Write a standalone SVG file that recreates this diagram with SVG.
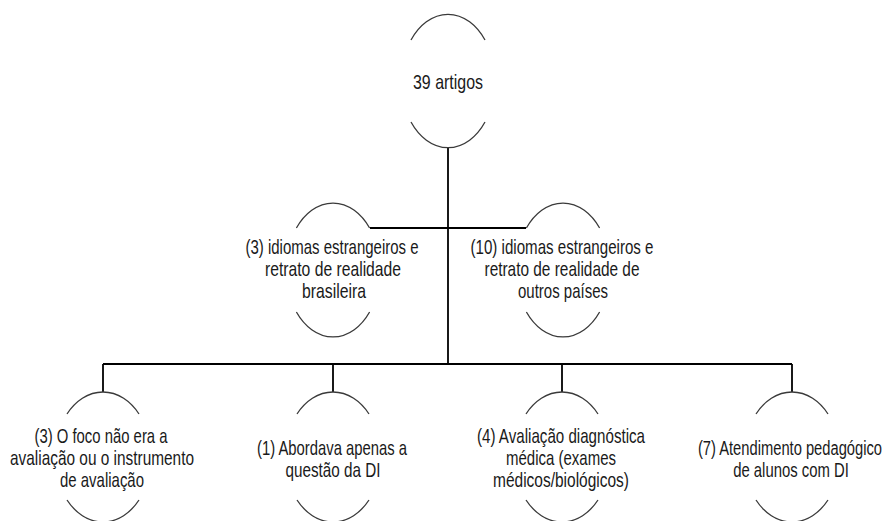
<svg xmlns="http://www.w3.org/2000/svg" width="889" height="521" viewBox="0 0 889 521">
  <style>
    .arc { fill: none; stroke: #3a3a3a; stroke-width: 1.3; }
    .conn { fill: none; stroke: #000; stroke-width: 1.8; }
    text { font-family: "Liberation Sans", Arial, sans-serif; font-size: 21px; fill: #1a1a1a; text-anchor: middle; }
  </style>
  <rect width="889" height="521" fill="#fff"/>
  <g id="connectors">
    <path class="conn" d="M448,148 V364"/>
    <path class="conn" d="M370,228 H526"/>
    <path class="conn" d="M103,364 H792"/>
    <path class="conn" d="M103,364 V392"/>
    <path class="conn" d="M333,364 V392"/>
    <path class="conn" d="M562,364 V392"/>
    <path class="conn" d="M792,364 V392"/>
  </g>
  <g id="n-root">
    <path class="arc" d="M411,40 A47,67 0 0 1 485,40"/>
    <path class="arc" d="M411,122 A47,67 0 0 0 485,122"/>
    <text x="448" y="89" textLength="70" lengthAdjust="spacingAndGlyphs">39 artigos</text>
  </g>
  <g id="n-br">
    <path class="arc" d="M296.4,228 A47,67 0 0 1 369.6,228"/>
    <path class="arc" d="M296.4,312 A47,67 0 0 0 369.6,312"/>
    <text x="332" y="254" textLength="173" lengthAdjust="spacingAndGlyphs">(3) idiomas estrangeiros e</text>
    <text x="333" y="276" textLength="136" lengthAdjust="spacingAndGlyphs">retrato de realidade</text>
    <text x="334" y="298" textLength="64" lengthAdjust="spacingAndGlyphs">brasileira</text>
  </g>
  <g id="n-out">
    <path class="arc" d="M526.4,228 A47,67 0 0 1 599.6,228"/>
    <path class="arc" d="M526.4,312 A47,67 0 0 0 599.6,312"/>
    <text x="562" y="254" textLength="183" lengthAdjust="spacingAndGlyphs">(10) idiomas estrangeiros e</text>
    <text x="562" y="276" textLength="155" lengthAdjust="spacingAndGlyphs">retrato de realidade de</text>
    <text x="563" y="298" textLength="90" lengthAdjust="spacingAndGlyphs">outros países</text>
  </g>
  <g id="n-foco">
    <path class="arc" d="M67,414 A48,65 0 0 1 139,414"/>
    <path class="arc" d="M67,500 A48,65 0 0 0 139,500"/>
    <text x="101" y="443" textLength="133" lengthAdjust="spacingAndGlyphs">(3) O foco não era a</text>
    <text x="102" y="465" textLength="184" lengthAdjust="spacingAndGlyphs">avaliação ou o instrumento</text>
    <text x="102" y="487" textLength="84" lengthAdjust="spacingAndGlyphs">de avaliação</text>
  </g>
  <g id="n-di">
    <path class="arc" d="M297,414 A48,65 0 0 1 369,414"/>
    <path class="arc" d="M297,500 A48,65 0 0 0 369,500"/>
    <text x="332" y="455" textLength="150" lengthAdjust="spacingAndGlyphs">(1) Abordava apenas a</text>
    <text x="333" y="477" textLength="95" lengthAdjust="spacingAndGlyphs">questão da DI</text>
  </g>
  <g id="n-med">
    <path class="arc" d="M526,414 A48,65 0 0 1 598,414"/>
    <path class="arc" d="M526,500 A48,65 0 0 0 598,500"/>
    <text x="561" y="443" textLength="168" lengthAdjust="spacingAndGlyphs">(4) Avaliação diagnóstica</text>
    <text x="561" y="465" textLength="110" lengthAdjust="spacingAndGlyphs">médica (exames</text>
    <text x="561" y="487" textLength="136" lengthAdjust="spacingAndGlyphs">médicos/biológicos)</text>
  </g>
  <g id="n-ped">
    <path class="arc" d="M756,414 A48,65 0 0 1 828,414"/>
    <path class="arc" d="M756,500 A48,65 0 0 0 828,500"/>
    <text transform="translate(790,455) scale(0.7,1)" x="0" y="0" textLength="263" lengthAdjust="spacingAndGlyphs">(7) Atendimento pedagógico</text>
    <text transform="translate(791,477) scale(0.71,1)" x="0" y="0" textLength="163" lengthAdjust="spacingAndGlyphs">de alunos com DI</text>
  </g>
</svg>
